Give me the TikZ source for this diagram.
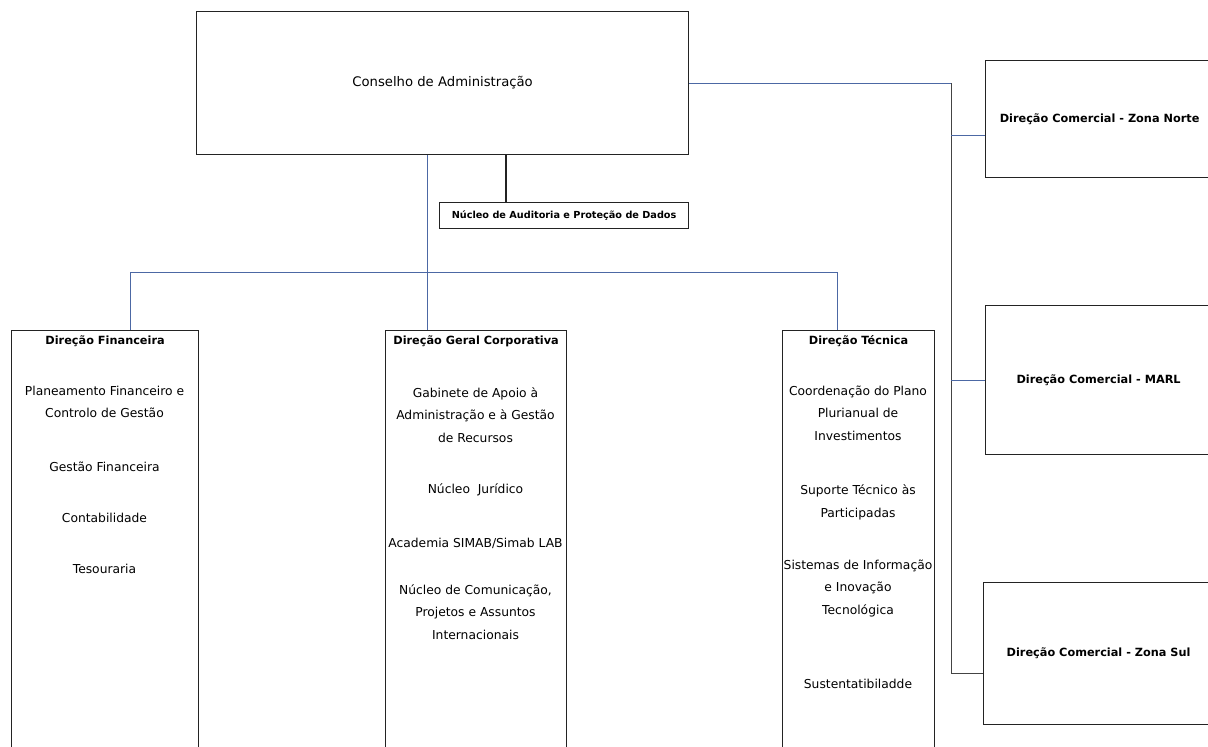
\documentclass[tikz,border=0pt]{standalone}
\usepackage{fontspec}
\setmainfont{DejaVu Sans}
\usetikzlibrary{positioning}

\definecolor{linkblue}{RGB}{76,104,164}
\definecolor{boxgray}{RGB}{35,35,35}

\begin{document}
\begin{tikzpicture}[x=1pt,y=-1pt,
    box/.style={draw=boxgray,line width=1.2pt,rectangle,anchor=north west,inner sep=0pt},
    head/.style={font=\fontsize{11.3}{13}\selectfont\bfseries},
    item/.style={align=center,font=\fontsize{12.3}{22.5}\selectfont},
    link/.style={draw=linkblue,line width=1pt},
    darklink/.style={draw=boxgray!85,line width=1pt}]

    % Page frame
    \useasboundingbox (0,0) rectangle (1208,747);
    \fill [white] (0,0) rectangle (1208,747);
    \clip (0,0) rectangle (1208,747);

    % Board and audit unit
    \node (cons) [box,minimum width=492pt,minimum height=143pt,font=\fontsize{13.2}{15}\selectfont] at (196,11) {Conselho de Administração};
    \node (audit) [box,minimum width=249pt,minimum height=26pt,font=\fontsize{9.7}{11}\selectfont\bfseries] at (439,202) {Núcleo de Auditoria e Proteção de Dados};

    % Lower directorates (run past the page bottom)
    \node (fin) [box,minimum width=187pt,minimum height=450pt] at (11,330) {};
    \node (ger) [box,minimum width=181pt,minimum height=450pt] at (385,330) {};
    \node (tec) [box,minimum width=152pt,minimum height=450pt] at (782,330) {};

    \node (finhead) [head,below=2pt of fin.north] {Direção Financeira};
    \node (gerhead) [head,below=2pt of ger.north] {Direção Geral Corporativa};
    \node (techead) [head,below=2pt of tec.north] {Direção Técnica};

    % Direção Financeira
    \node (fin1) [item] at (104.5,402) {Planeamento Financeiro e\\Controlo de Gestão};
    \node (fin2) [item] at (104.5,467) {Gestão Financeira};
    \node (fin3) [item] at (104.5,518) {Contabilidade};
    \node (fin4) [item] at (104.5,569) {Tesouraria};

    % Direção Geral Corporativa
    \node (ger1) [item] at (475.5,415) {Gabinete de Apoio à\\Administração e à Gestão\\de Recursos};
    \node (ger2) [item] at (475.5,490) {Núcleo\ \ Jurídico};
    \node (ger3) [item] at (475.5,543) {Academia SIMAB/Simab LAB};
    \node (ger4) [item] at (475.5,612) {Núcleo de Comunicação,\\Projetos e Assuntos\\Internacionais};

    % Direção Técnica
    \node (tec1) [item] at (858,413) {Coordenação do Plano\\Plurianual de\\Investimentos};
    \node (tec2) [item] at (858,502.5) {Suporte Técnico às\\Participadas};
    \node (tec3) [item] at (858,588) {Sistemas de Informação\\e Inovação\\Tecnológica};
    \node (tec4) [item] at (858,684) {Sustentatibiladde};

    % Commercial directorates (cut by the right edge)
    \node (norte) [box,minimum width=228pt,minimum height=117pt,head] at (985,60) {Direção Comercial - Zona Norte};
    \node (marl) [box,minimum width=226pt,minimum height=149pt,head] at (985,305) {Direção Comercial - MARL};
    \node (sul) [box,minimum width=230pt,minimum height=142pt,head] at (983,582) {Direção Comercial - Zona Sul};

    % Connector points
    \coordinate (bus) at (427,272);
    \coordinate (finx) at (130,272);
    \coordinate (tecx) at (837,272);
    \coordinate (auditx) at (506,0);
    \coordinate (spine) at (951,0);
    \coordinate (nortein) at ([yshift=-16.5pt]norte.west);
    \coordinate (sulin) at ([yshift=-20pt]sul.west);

    % Connectors
    \draw [link] (cons.south -| bus) -- (ger.north -| bus);
    \draw [link] (fin.north -| finx) -- (finx) -- (tecx) -- (tec.north -| tecx);
    \draw [draw=boxgray,line width=1.2pt] (cons.south -| auditx) -- (audit.north -| auditx);
    \draw [link] (cons.east) -- (cons.east -| spine);
    \draw [darklink] (cons.east -| spine) -- (spine |- sulin) -- (sulin);
    \draw [link] (spine |- nortein) -- (nortein);
    \draw [link] (spine |- marl.west) -- (marl.west);

\end{tikzpicture}
\end{document}
